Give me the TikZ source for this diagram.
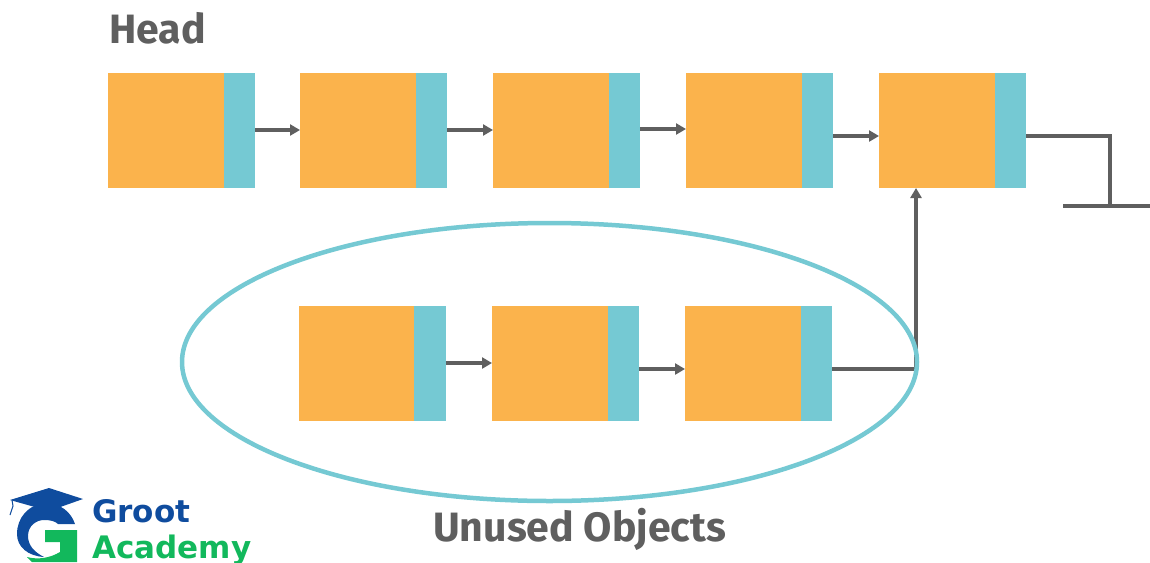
\documentclass[tikz,border=0pt]{standalone}
\usepackage{fontspec}
\setmainfont{Fira Sans}
\newfontfamily\logofont{DejaVu Sans}
\usetikzlibrary{arrows.meta,shapes.geometric}
\definecolor{boxorange}{HTML}{FBB34C}
\definecolor{boxteal}{HTML}{75C9D3}
\definecolor{linegray}{HTML}{5F5F5F}
\definecolor{logoblue}{HTML}{0F4C9E}
\definecolor{logogreen}{HTML}{12B85C}
\tikzset{
  x=1pt,y=-1pt,
  databox/.style={fill=boxorange,draw=none,minimum width=115.5pt,minimum height=115pt,inner sep=0pt,outer sep=0pt,anchor=north west},
  linkbox/.style={fill=boxteal,draw=none,minimum width=31.5pt,minimum height=115pt,inner sep=0pt,outer sep=0pt,anchor=north west},
  linkline/.style={draw=linegray,line width=4pt},
  linkarrow/.style={linkline,-{Triangle[length=10pt,width=11pt]}},
  caption/.style={text=linegray,inner sep=0pt,anchor=base west,font=\bfseries\fontsize{41}{41}\selectfont},
  logotext/.style={inner sep=0pt,anchor=base west,font=\logofont\bfseries\fontsize{31}{31}\selectfont}
}
\begin{document}
\begin{tikzpicture}
\useasboundingbox (0,0) rectangle (1150,562);
% top row
\foreach \n/\x in {1/108,2/300,3/493,4/686,5/879}{
  \node[databox] (d\n) at (\x,73) {};
  \node[linkbox] (l\n) at (\x+115.5,73) {};
}
% bottom row
\foreach \n/\x in {6/298.5,7/492,8/685}{
  \node[databox] (d\n) at (\x,306) {};
  \node[linkbox] (l\n) at (\x+115.5,306) {};
}
% links, each at the height the picture gives it
\foreach \a/\b/\y in {1/2/130,2/3/130,3/4/129,4/5/136,6/7/363,7/8/369}{
  \coordinate (via\a) at (0,\y);
  \draw[linkarrow] (l\a.east |- via\a) -- (d\b.west |- via\a);
}
% terminator
\coordinate (endcorner) at (1110,136);
\coordinate (groundtop) at (1110,206);
\coordinate (groundl) at (1063,206);
\coordinate (groundr) at (1150,206);
\draw[linkline] (l5.east |- endcorner) -- (endcorner) -- (groundtop);
\draw[linkline] (groundl) -- (groundr);
% merge link
\coordinate (merge) at (916,369);
\draw[linkline] (l8.east |- merge) -- (merge);
\draw[linkarrow] ([yshift=2pt]merge) -- (merge |- d5.south);
% ellipse
\node[draw=boxteal,line width=4.5pt,ellipse,minimum width=735pt,minimum height=278pt,inner sep=0pt] (unused) at (549.5,362) {};
% labels
\node[caption] (head) at (109,43) {Head};
\node[caption] (objs) at (433,541) {Unused Objects};
% logo
\fill[logoblue] (10,500) -- (49,488) -- (83,499) -- (49,511) -- cycle;
\draw[logoblue,line width=1pt] (12,500) -- (13,506) -- (10,515);
\fill[logoblue] (75,524) .. controls (71,512) and (61,504) .. (47,503)
  .. controls (28,504) and (17,518) .. (17,534)
  .. controls (17,547) and (28,556) .. (44,557)
  .. controls (34,552) and (28,545) .. (28,536)
  .. controls (28,526) and (36,520) .. (44,520)
  .. controls (50,520) and (55,521) .. (58,524) -- cycle;
\fill[logogreen] (45,530) -- (77,530) -- (77,562) -- (60,562) -- (60,542) -- (45,542) -- cycle;
\fill[logogreen] (27,557) .. controls (38,560) and (50,558) .. (60,552) -- (60,562) -- (32,562) -- cycle;
\node[logotext,text=logoblue] (groot) at (92,522) {Groot};
\node[logotext,text=logogreen] (academy) at (92,558) {Academy};
\end{tikzpicture}
\end{document}
